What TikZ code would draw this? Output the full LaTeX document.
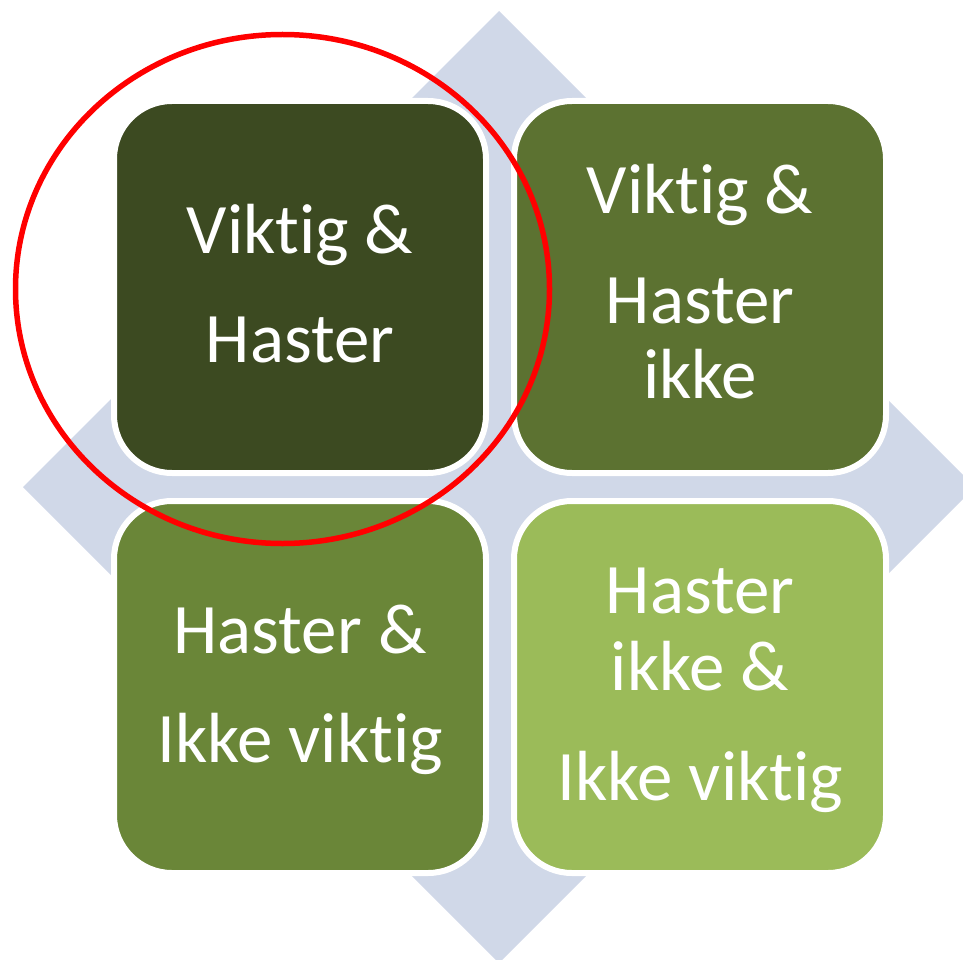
\documentclass[tikz,border=0pt]{standalone}
\usepackage{fontspec}
\setmainfont{Carlito}[RawFeature=-liga]
\definecolor{diam}{HTML}{D0D8E8}
\definecolor{qa}{HTML}{3C4A21}
\definecolor{qb}{HTML}{5C7231}
\definecolor{qc}{HTML}{6A8638}
\definecolor{qd}{HTML}{9BBB59}
\definecolor{ring}{HTML}{FF0000}
\begin{document}
\begin{tikzpicture}[x=1pt,y=-1pt,
  quad/.style={draw=white, line width=6pt, rounded corners=58pt, rectangle,
    minimum width=372pt, minimum height=372pt, inner sep=0pt, outer sep=0pt},
  lbl/.style={text=white, font=\fontsize{71}{80}\selectfont, anchor=base, inner sep=0pt}]
\useasboundingbox (0,0) rectangle (963,960);
\clip (0,0) rectangle (963,960);
\fill[diam] (499,11) -- (975,487) -- (499,963) -- (23,487) -- cycle;
\node[quad, fill=qa] (tl) at (300,287) {};
\node[quad, fill=qb] (tr) at (700,287) {};
\node[quad, fill=qc] (bl) at (300,687) {};
\node[quad, fill=qd] (br) at (700,687) {};
\node[lbl] (tl1) at (300,253) {Viktig \&};
\node[lbl] (tl2) at (300,362) {Haster};
\node[lbl] (tr1) at (700,213) {Viktig \&};
\node[lbl] (tr2) at (700,323) {Haster};
\node[lbl] (tr3) at (700,398) {ikke};
\node[lbl] (bl1) at (300,653) {Haster \&};
\node[lbl] (bl2) at (300,762) {Ikke viktig};
\node[lbl] (br1) at (700,613) {Haster};
\node[lbl] (br2) at (700,690) {ikke \&};
\node[lbl] (br3) at (700,800) {Ikke viktig};
\draw[ring, line width=5.5pt] (282.5,289) ellipse [x radius=267, y radius=254.5];
\end{tikzpicture}
\end{document}
